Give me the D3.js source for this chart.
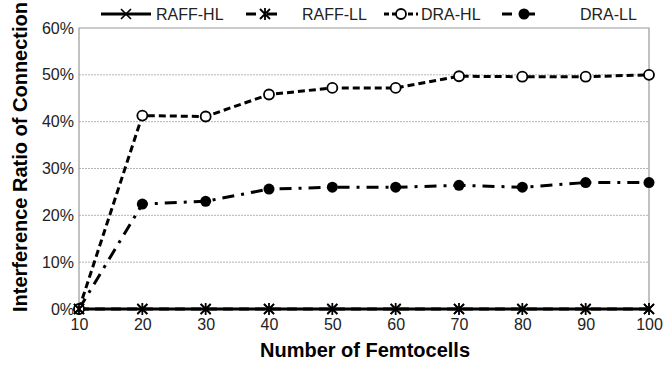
<!DOCTYPE html>
<html>
<head>
<meta charset="utf-8">
<script src="https://cdn.jsdelivr.net/npm/d3@7"></script>
<style>
  body { margin: 0; background: #fff; }
  svg { display: block; }
</style>
</head>
<body>
<script>
var femtocells = [10, 20, 30, 40, 50, 60, 70, 80, 90, 100];
var raffHL = [0, 0, 0, 0, 0, 0, 0, 0, 0, 0];
var raffLL = [0, 0, 0, 0, 0, 0, 0, 0, 0, 0];
var draHL = [0, 41.3, 41.1, 45.8, 47.2, 47.2, 49.7, 49.6, 49.6, 50.0];
var draLL = [0, 22.4, 23.0, 25.6, 26.0, 26.0, 26.4, 26.0, 27.0, 27.0];
var yTicks = [0, 10, 20, 30, 40, 50, 60];

var margin = {top: 28, right: 16, bottom: 57, left: 79},
    width = 665 - margin.left - margin.right,
    height = 366 - margin.top - margin.bottom;

var svg = d3.select("body").append("svg")
    .attr("width", 665)
    .attr("height", 366);

var g = svg.append("g")
    .attr("transform", "translate(" + margin.left + "," + margin.top + ")");

var x = d3.scaleLinear().domain([10, 100]).range([0, width]);
var y = d3.scaleLinear().domain([0, 60]).range([height, 0]);

// gridlines
g.selectAll("line.grid")
    .data(yTicks.slice(1, -1))
  .enter().append("line")
    .attr("class", "grid")
    .attr("x1", 0).attr("x2", width)
    .attr("y1", function(d) { return y(d); })
    .attr("y2", function(d) { return y(d); })
    .attr("stroke", "#b5b5b5")
    .attr("stroke-width", 1)
    .attr("stroke-dasharray", "2,1");

// frame
g.append("path")
    .attr("d", "M0," + height + "V0H" + width + "V" + height)
    .attr("fill", "none")
    .attr("stroke", "#999")
    .attr("stroke-width", 1.2);

// y axis
var yAxis = g.append("g")
    .call(d3.axisLeft(y).tickValues(yTicks).tickSize(0).tickPadding(5)
      .tickFormat(function(d) { return d + "%"; }));
yAxis.select(".domain").remove();
yAxis.selectAll("text")
    .style("font-family", "Liberation Sans, Arial, sans-serif")
    .style("font-size", "16px")
    .attr("fill", "#222");

// x axis
var xAxis = g.append("g")
    .attr("transform", "translate(0," + height + ")")
    .call(d3.axisBottom(x).tickValues(femtocells).tickSize(0).tickPadding(10));
xAxis.select(".domain").remove();
xAxis.selectAll("text")
    .style("font-family", "Liberation Sans, Arial, sans-serif")
    .style("font-size", "16px")
    .attr("fill", "#222");

var series = [
  {name: "RAFF-HL", values: raffHL, dash: null, marker: "x"},
  {name: "RAFF-LL", values: raffLL, dash: "10,6", marker: "star"},
  {name: "DRA-HL", values: draHL, dash: "7,4", marker: "open"},
  {name: "DRA-LL", values: draLL, dash: "12,7,3,7", marker: "dot"}
];

var line = d3.line()
    .x(function(d, i) { return x(femtocells[i]); })
    .y(function(d) { return y(d); });

function drawMarker(sel, type, cx, cy) {
  if (type === "x") {
    sel.append("path")
      .attr("d", "M" + (cx - 5) + "," + (cy - 5) + "L" + (cx + 5) + "," + (cy + 5) +
                 "M" + (cx - 5) + "," + (cy + 5) + "L" + (cx + 5) + "," + (cy - 5))
      .attr("stroke", "#000").attr("stroke-width", 1.6);
  } else if (type === "star") {
    sel.append("path")
      .attr("d", "M" + (cx - 5) + "," + (cy - 5) + "L" + (cx + 5) + "," + (cy + 5) +
                 "M" + (cx - 5) + "," + (cy + 5) + "L" + (cx + 5) + "," + (cy - 5) +
                 "M" + cx + "," + (cy - 6) + "L" + cx + "," + (cy + 6))
      .attr("stroke", "#000").attr("stroke-width", 1.8);
  } else if (type === "open") {
    sel.append("circle").attr("cx", cx).attr("cy", cy).attr("r", 5)
      .attr("fill", "#fff").attr("stroke", "#000").attr("stroke-width", 1.8);
  } else {
    sel.append("circle").attr("cx", cx).attr("cy", cy).attr("r", 5.5)
      .attr("fill", "#000");
  }
}

series.forEach(function(s) {
  g.append("path")
    .datum(s.values)
    .attr("d", line)
    .attr("fill", "none")
    .attr("stroke", "#000")
    .attr("stroke-width", 3)
    .attr("stroke-dasharray", s.dash);
});

series.slice().reverse().forEach(function(s) {
  var mg = g.append("g");
  s.values.forEach(function(v, i) {
    drawMarker(mg, s.marker, x(femtocells[i]), y(v));
  });
});

// legend
var legendItems = [
  {x0: 101, x1: 151, tx: 156},
  {x0: 246, x1: 284, tx: 302},
  {x0: 384, x1: 418, tx: 421},
  {x0: 502, x1: 546, tx: 580}
];
var legend = svg.append("g");
series.forEach(function(s, i) {
  var L = legendItems[i], ly = 14;
  legend.append("line")
    .attr("x1", L.x0).attr("x2", L.x1)
    .attr("y1", ly).attr("y2", ly)
    .attr("stroke", "#000").attr("stroke-width", 3)
    .attr("stroke-dasharray", s.dash ? (i === 1 ? "10,11" : i === 3 ? "10,13,10,13" : "5,3") : null);
  drawMarker(legend, s.marker, (L.x0 + L.x1) / 2, ly);
  legend.append("text")
    .attr("x", L.tx).attr("y", ly + 6)
    .style("font-family", "Liberation Sans, Arial, sans-serif")
    .style("font-size", "16px")
    .attr("fill", "#222")
    .text(s.name);
});

// axis titles
svg.append("text")
    .attr("transform", "translate(27,157) rotate(-90)")
    .style("text-anchor", "middle")
    .style("font-family", "Liberation Sans, Arial, sans-serif")
    .style("font-weight", "bold")
    .style("font-size", "20px")
    .text("Interference Ratio of Connection");

svg.append("text")
    .attr("x", 365)
    .attr("y", 357)
    .style("text-anchor", "middle")
    .style("font-family", "Liberation Sans, Arial, sans-serif")
    .style("font-weight", "bold")
    .style("font-size", "20px")
    .text("Number of Femtocells");
</script>
</body>
</html>
